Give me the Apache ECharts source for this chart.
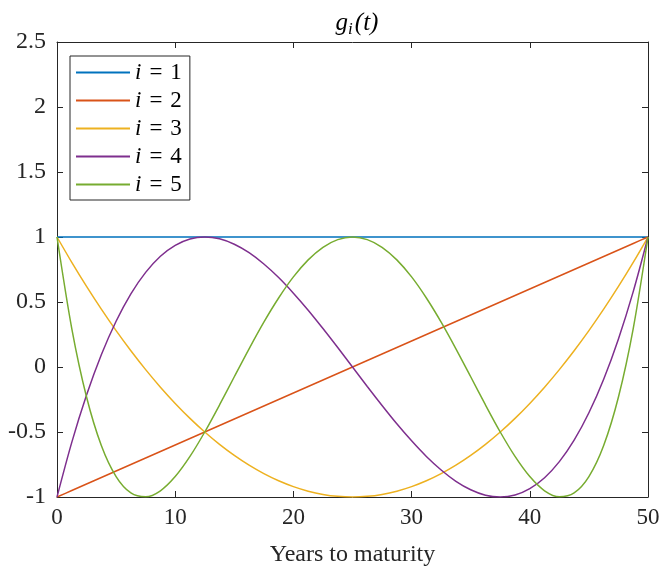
<!DOCTYPE html>
<html>
<head>
<meta charset="utf-8">
<script src="https://cdn.jsdelivr.net/npm/echarts@6/dist/echarts.min.js"></script>
<style>
  html, body { margin: 0; padding: 0; background: #fff; }
  #main { width: 663px; height: 568px; }
</style>
</head>
<body>
<div id="main"></div>
<script>
// years to maturity, step 1.25
var years = [];
for (var k = 0; k <= 40; k++) years.push(k * 1.25);

var g1 = [1, 1, 1, 1, 1, 1, 1, 1, 1, 1, 1, 1, 1, 1, 1, 1, 1, 1, 1, 1, 1,
          1, 1, 1, 1, 1, 1, 1, 1, 1, 1, 1, 1, 1, 1, 1, 1, 1, 1, 1, 1];
var g2 = [-1, -0.95, -0.9, -0.85, -0.8, -0.75, -0.7, -0.65, -0.6, -0.55, -0.5,
          -0.45, -0.4, -0.35, -0.3, -0.25, -0.2, -0.15, -0.1, -0.05, 0,
          0.05, 0.1, 0.15, 0.2, 0.25, 0.3, 0.35, 0.4, 0.45, 0.5,
          0.55, 0.6, 0.65, 0.7, 0.75, 0.8, 0.85, 0.9, 0.95, 1];
var g3 = [1, 0.805, 0.62, 0.445, 0.28, 0.125, -0.02, -0.155, -0.28, -0.395, -0.5,
          -0.595, -0.68, -0.755, -0.82, -0.875, -0.92, -0.955, -0.98, -0.995, -1,
          -0.995, -0.98, -0.955, -0.92, -0.875, -0.82, -0.755, -0.68, -0.595, -0.5,
          -0.395, -0.28, -0.155, -0.02, 0.125, 0.28, 0.445, 0.62, 0.805, 1];
var g4 = [-1, -0.58, -0.216, 0.094, 0.352, 0.563, 0.728, 0.852, 0.936, 0.985, 1,
          0.986, 0.944, 0.879, 0.792, 0.688, 0.568, 0.437, 0.296, 0.15, 0,
          -0.15, -0.296, -0.437, -0.568, -0.688, -0.792, -0.879, -0.944, -0.986, -1,
          -0.985, -0.936, -0.852, -0.728, -0.563, -0.352, -0.094, 0.216, 0.58, 1];
var g5 = [1, 0.296, -0.231, -0.604, -0.843, -0.969, -0.999, -0.952, -0.843, -0.688, -0.5,
          -0.292, -0.075, 0.14, 0.345, 0.531, 0.693, 0.824, 0.921, 0.98, 1,
          0.98, 0.921, 0.824, 0.693, 0.531, 0.345, 0.14, -0.075, -0.292, -0.5,
          -0.688, -0.843, -0.952, -0.999, -0.969, -0.843, -0.604, -0.231, 0.296, 1];

var names = ["1", "2", "3", "4", "5"];
var colors = ["#0072BD", "#D95319", "#EDB120", "#7E2F8E", "#77AC30"];
var allData = [g1, g2, g3, g4, g5];

var font = "Liberation Serif";
var ink = "#262626";

var chartDom = document.getElementById("main");
var myChart = echarts.init(chartDom);

function pairs(ys) {
    var out = [];
    for (var i = 0; i < years.length; i++) out.push([years[i], ys[i]]);
    return out;
}

var series = [];
for (var s = 0; s < allData.length; s++) {
    series.push({
        name: names[s],
        type: "line",
        data: pairs(allData[s]),
        showSymbol: false,
        symbol: "none",
        smooth: 0.3,
        lineStyle: { color: colors[s], width: 1.5 },
        itemStyle: { color: colors[s] },
        animation: false,
    });
}

var axisCommon = {
    axisLine: { show: true, onZero: false, lineStyle: { color: ink, width: 1 } },
    axisTick: { show: true, inside: true, length: 6, lineStyle: { color: ink } },
    splitLine: { show: false },
};

var option = {
    backgroundColor: "#fff",
    animation: false,
    title: {
        text: "{g|g}{s|i}{p|(t)}",
        left: 352,
        textAlign: "center",
        top: 4,
        textStyle: {
            fontWeight: "normal",
            rich: {
                g: { fontFamily: font, fontStyle: "italic", fontWeight: "normal", fontSize: 25, color: "#000" },
                s: { fontFamily: font, fontStyle: "italic", fontWeight: "normal", fontSize: 17, color: "#000", verticalAlign: "bottom", padding: [12, 2, 0, 0] },
                p: { fontFamily: font, fontStyle: "italic", fontWeight: "normal", fontSize: 25, color: "#000" },
            },
        },
    },
    legend: {
        orient: "vertical",
        left: 70,
        top: 56,
        padding: [5, 8, 4, 6],
        icon: "rect",
        itemWidth: 54,
        itemHeight: 2,
        itemGap: 5,
        backgroundColor: "#fff",
        borderColor: ink,
        borderWidth: 1,
        borderRadius: 0,
        data: names,
        formatter: function (n) { return "{i|i}{e|=}{n|" + n + "}"; },
        textStyle: {
            padding: [0, 0, 0, 0],
            lineHeight: 22,
            rich: {
                i: { fontFamily: font, fontStyle: "italic", fontSize: 23, lineHeight: 22, color: "#000" },
                e: { fontFamily: font, fontSize: 23, lineHeight: 22, color: "#000", padding: [0, 8, 0, 8] },
                n: { fontFamily: font, fontSize: 23, lineHeight: 22, color: "#000" },
            },
        },
    },
    grid: { left: 57, right: 15, top: 42, bottom: 71, containLabel: false, outerBoundsMode: "none" },
    xAxis: [
        Object.assign({
            type: "value",
            min: 0,
            max: 50,
            interval: 10,
            name: "Years to maturity",
            nameLocation: "middle",
            nameGap: 46,
            nameTextStyle: { fontFamily: font, fontSize: 24, color: ink },
            axisLabel: { fontFamily: font, fontSize: 23, color: ink, margin: 9 },
        }, axisCommon),
        Object.assign({
            type: "value",
            position: "top",
            min: 0,
            max: 50,
            interval: 10,
            axisLabel: { show: false },
        }, axisCommon),
    ],
    yAxis: [
        Object.assign({
            type: "value",
            min: -1,
            max: 2.5,
            interval: 0.5,
            axisLabel: { fontFamily: font, fontSize: 24, color: ink, margin: 11 },
        }, axisCommon),
        Object.assign({
            type: "value",
            position: "right",
            min: -1,
            max: 2.5,
            interval: 0.5,
            axisLabel: { show: false },
        }, axisCommon),
    ],
    series: series,
};

option && myChart.setOption(option);
</script>
</body>
</html>
